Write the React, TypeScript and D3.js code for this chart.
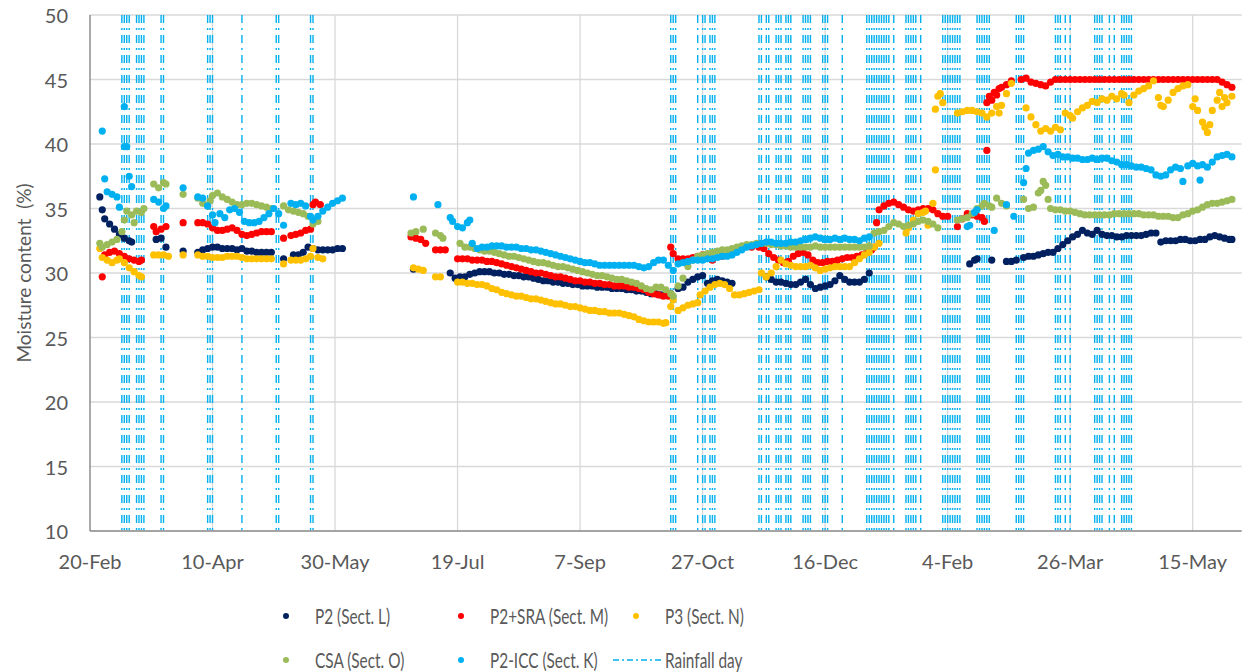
import React from "react";
import * as d3 from "d3";

// day offsets counted from 20-Feb-2020, values = moisture content (%)
const p2: [number, number][] = [
  [4,35.9],[5,34.9],[6,34.2],[8,33.8],[10,33.4],[12,33.0],[14,32.7],[16,32.5],[17,32.4],
  [27,32.6],[29,32.7],[31,32.0],[38,31.7],
  [44,31.6],[46,31.8],[48,31.9],[50,32.0],[52,32.0],[54,31.9],[56,31.9],[58,31.9],[60,31.8],[62,31.9],[64,31.7],[66,31.7],[68,31.6],[70,31.6],[72,31.6],[74,31.6],
  [79,31.1],
  [83,31.4],[85,31.4],[87,31.6],[89,32.0],[91,31.9],[93,31.8],[95,31.8],[97,31.8],[99,31.8],[101,31.9],[103,31.9],
  [132,30.3],[147,30.0],[149,29.6],[151,29.7],[153,29.7],[155,29.9],[157,30.0],[159,30.1],[161,30.1],[163,30.1],[165,30.0],[167,30.0],[169,29.9],[171,29.9],[173,29.8],[175,29.8],[177,29.7],[179,29.7],[181,29.6],[183,29.5],[185,29.4],[187,29.4],[189,29.3],[191,29.3],[193,29.2],[195,29.2],[197,29.1],[199,29.1],[201,29.0],[203,29.0],[205,29.0],[207,28.9],[209,28.9],[211,28.9],[213,28.8],[215,28.8],[217,28.8],[219,28.7],[221,28.7],[223,28.6],[225,28.6],[227,28.5],[229,28.4],[231,28.4],[233,28.3],[235,28.3],[237,28.4],
  [240,28.8],[242,28.9],[244,29.3],[246,29.5],[248,29.7],[250,29.8],[252,29.2],[254,29.4],[256,29.5],[258,29.4],[260,29.3],[262,29.2],
  [276,29.7],[278,29.5],[280,29.3],[282,29.3],[284,29.2],[286,29.1],[288,29.1],[290,29.3],[292,29.5],[294,29.1],[296,28.8],[298,28.9],[300,29.0],[302,29.1],[304,29.4],[306,29.8],[308,29.5],[310,29.3],[312,29.3],[314,29.3],[316,29.5],[318,30.0],
  [359,30.7],[361,31.0],[362,31.1],[368,31.0],[374,30.9],[376,30.9],[378,31.0],[381,31.2],[383,31.3],[385,31.3],[387,31.4],[389,31.5],[391,31.6],[393,31.6],[395,31.9],[397,32.2],[399,32.5],[401,32.8],[403,33.0],[405,33.3],[407,33.1],[409,33.0],[411,33.3],[413,33.0],[415,32.9],[417,32.9],[419,32.8],[421,32.8],[423,32.9],[425,32.9],[427,32.9],[429,32.9],[431,33.0],[433,33.1],[435,33.1],
  [437,32.4],[439,32.5],[441,32.5],[443,32.5],[445,32.6],[447,32.6],[449,32.5],[451,32.5],[453,32.6],[455,32.6],[457,32.8],[459,32.9],[461,32.8],[463,32.7],[465,32.6],[466,32.6],
];

const p2sra: [number, number][] = [
  [5,29.7],[6,31.4],[8,31.6],[10,31.7],[12,31.5],[14,31.3],[16,31.1],[18,31.0],[20,30.9],[21,31.0],
  [26,33.6],[27,33.2],[29,33.4],[31,33.6],[38,33.9],
  [44,33.9],[46,33.9],[48,33.8],[50,33.5],[52,33.3],[54,33.3],[56,33.4],[58,33.5],[60,33.3],[62,33.0],[64,32.9],[66,33.0],[68,33.1],[70,33.2],[72,33.2],[74,33.2],
  [79,32.7],
  [82,32.9],[84,33.0],[86,33.1],[88,33.3],[90,33.4],[91,35.3],[92,35.5],[94,35.3],
  [131,32.8],[133,32.7],[135,32.6],[137,32.3],[141,31.8],[143,31.8],[145,31.8],
  [150,31.1],[152,31.1],[154,31.1],[156,31.0],[158,31.0],[160,31.0],[162,30.9],[164,30.9],[166,30.8],[168,30.7],[170,30.6],[172,30.5],[174,30.4],[176,30.3],[178,30.2],[180,30.1],[182,30.0],[184,30.0],[186,29.9],[188,29.8],[190,29.7],[192,29.7],[194,29.6],[196,29.5],[198,29.4],[200,29.4],[202,29.3],[204,29.3],[206,29.2],[208,29.2],[210,29.1],[212,29.1],[214,29.0],[216,29.0],[218,29.0],[220,28.9],[222,28.9],[224,28.8],[226,28.7],[228,28.5],[230,28.4],[232,28.3],[234,28.2],[236,28.2],
  [237,32.0],[238,31.5],[240,31.1],[242,31.1],[244,31.1],[246,31.2],[248,31.3],[250,31.4],[252,31.2],[254,31.0],
  [258,31.3],[262,31.6],[266,31.9],[270,32.0],[273,32.0],[275,31.9],[277,31.5],[279,31.2],[281,31.0],[283,30.8],[285,30.9],[287,31.3],[289,31.5],[291,31.6],[293,31.4],[295,31.0],[297,30.8],[299,30.8],[301,30.9],[303,30.9],[305,31.0],[307,31.1],[309,31.2],[311,31.2],[313,31.3],[315,31.4],[317,31.6],[319,31.8],[320,32.0],
  [321,33.9],[322,34.9],[324,35.2],[326,35.4],[328,35.5],[330,35.3],[332,35.1],[334,34.9],[336,34.8],[338,34.9],[340,35.0],[342,35.0],[344,34.9],[346,34.6],[348,34.4],[350,34.4],
  [354,33.6],[356,34.2],[358,34.6],[360,34.5],[362,34.4],[364,34.3],[365,34.0],
  [366,39.5],
  [366,43.2],[367,43.7],[368,43.4],[369,44.0],[370,43.8],[371,44.3],[372,44.4],[374,44.6],[376,44.9],
  [380,45.0],[382,45.1],[384,44.8],[386,44.7],[388,44.6],[390,44.5],[392,44.8],[394,45.0],[396,45.0],[398,45.0],[400,45.0],[402,45.0],[404,45.0],[406,45.0],[408,45.0],[410,45.0],[412,45.0],[414,45.0],[416,45.0],[418,45.0],[420,45.0],[422,45.0],[424,45.0],[426,45.0],[428,45.0],[430,45.0],[432,45.0],[434,45.0],[436,45.0],[438,45.0],[440,45.0],[442,45.0],[444,45.0],[446,45.0],[448,45.0],[450,45.0],[452,45.0],[454,45.0],[456,45.0],[458,45.0],[460,45.0],[462,44.8],[464,44.6],[466,44.4],
];

const p3: [number, number][] = [
  [4,31.9],[5,31.2],[7,31.0],[9,30.8],[11,31.0],[12,31.1],[14,30.8],[16,30.4],[18,30.1],[20,29.8],[21,29.7],
  [26,31.4],[28,31.4],[30,31.4],[32,31.3],[38,31.4],
  [44,31.4],[46,31.3],[48,31.3],[50,31.2],[52,31.2],[54,31.2],[56,31.3],[58,31.3],[60,31.3],[62,31.2],[64,31.1],[66,31.1],[68,31.1],[70,31.1],[72,31.1],[74,31.1],
  [79,30.7],
  [82,31.0],[84,31.0],[86,31.0],[88,31.1],[90,31.3],[91,31.9],[93,31.2],[95,31.1],
  [132,30.4],[134,30.3],[136,30.2],[141,29.7],[143,29.7],
  [150,29.3],[152,29.3],[154,29.2],[156,29.2],[158,29.1],[160,29.1],[162,29.0],[164,28.8],[166,28.7],[168,28.5],[170,28.4],[172,28.3],[174,28.2],[176,28.2],[178,28.1],[180,28.0],[182,28.0],[184,27.9],[186,27.8],[188,27.7],[190,27.6],[192,27.6],[194,27.5],[196,27.4],[198,27.4],[200,27.3],[202,27.2],[204,27.1],[206,27.1],[208,27.0],[210,27.0],[212,26.9],[214,26.9],[216,26.9],[218,26.8],[220,26.7],[222,26.6],[224,26.4],[226,26.3],[228,26.2],[230,26.2],[232,26.2],[234,26.1],[235,26.15],
  [237,27.4],[238,27.9],[240,27.1],[242,27.3],[244,27.5],[246,27.6],[248,27.7],[249,28.3],[251,28.6],[253,28.9],[255,29.1],[257,29.2],[259,29.1],[261,28.8],[263,28.3],[265,28.3],[267,28.4],[269,28.5],[271,28.6],[273,28.7],
  [274,30.0],[276,29.7],[278,30.0],[280,30.5],[282,31.0],[284,30.7],[286,30.6],[288,30.5],[290,30.5],[292,30.5],[294,30.6],[296,30.4],[298,30.2],[300,30.3],[302,30.4],[304,30.5],[306,30.5],[308,30.5],[310,30.5],[312,30.8],[314,31.1],[316,31.4],[318,31.6],[320,32.0],[322,32.3],
  [333,33.1],[334,33.5],[336,34.1],[338,34.6],[340,34.7],[341,34.8],[342,33.7],[344,35.4],[345,38.0],
  [345,42.7],[346,43.7],[347,43.9],[348,43.2],[354,42.4],[356,42.5],[358,42.6],[360,42.6],[362,42.5],[364,42.4],[366,42.1],[368,42.4],[370,42.9],[371,42.4],[372,43.0],[374,43.9],[376,44.7],
  [382,42.8],[384,42.1],[386,41.5],[388,41.0],[390,41.2],[392,41.0],[394,41.3],[396,41.1],[398,42.4],[400,42.2],[401,42.0],[403,42.5],[405,42.8],[407,43.0],[409,43.3],[411,43.2],[413,43.5],[415,43.4],[417,43.7],[419,43.5],[421,43.9],
  [422,43.8],[424,43.2],[426,43.8],[428,44.1],[430,44.3],[432,44.5],[434,44.9],[436,43.6],[437,43.0],[438,42.9],[440,43.4],[442,44.0],[444,44.3],[446,44.5],[448,44.6],
  [450,42.9],[451,43.5],[452,42.6],[454,41.7],[455,41.3],[456,40.9],[457,41.5],[458,42.6],[460,43.4],[461,44.0],[462,42.9],[463,43.6],[464,43.2],[466,43.7],
];

const csa: [number, number][] = [
  [4,32.3],[5,32.0],[7,32.2],[9,32.4],[11,32.6],[13,33.2],[14,34.1],[15,34.8],[17,34.5],[18,33.9],[19,34.8],[21,34.7],[22,35.0],
  [26,36.9],[28,36.6],[30,37.0],[31,36.9],[38,36.1],
  [44,35.8],[46,35.4],[48,35.2],[49,35.6],[50,36.0],[52,36.2],[54,35.9],[56,35.7],[58,35.5],[60,35.3],[62,35.3],[64,35.4],[66,35.4],[68,35.3],[70,35.2],[72,35.1],[74,35.0],
  [79,35.2],
  [81,34.9],[83,34.8],[85,34.7],[87,34.6],[89,34.4],[91,33.8],[93,34.0],
  [131,33.1],[133,33.2],[136,33.4],[141,33.1],[143,32.9],[144,32.7],
  [151,32.3],[153,32.0],[155,32.0],[157,31.9],[159,31.8],[161,31.7],[163,31.7],[165,31.6],[167,31.5],[169,31.4],[171,31.3],[173,31.3],[175,31.2],[177,31.1],[179,31.0],[181,30.9],[183,30.8],[185,30.8],[187,30.7],[189,30.6],[191,30.5],[193,30.5],[195,30.4],[197,30.3],[199,30.2],[201,30.1],[203,30.0],[205,29.9],[207,29.8],[209,29.8],[211,29.7],[213,29.6],[215,29.5],[217,29.5],[219,29.4],[221,29.3],[223,29.2],[225,29.0],[227,28.8],[229,28.7],[231,28.9],[233,28.9],[235,28.7],[237,28.4],[238,28.2],
  [240,29.0],[242,29.6],[244,30.5],[246,31.0],[248,31.3],[250,31.4],[252,31.5],[254,31.6],[256,31.7],[258,31.8],[260,31.8],[262,31.9],[264,32.0],[266,32.1],[268,32.2],[270,32.2],[272,32.3],[274,32.3],[276,32.3],[278,32.2],[280,32.2],[282,32.1],[284,32.1],[286,32.0],[288,32.0],[290,32.0],[292,32.0],[294,32.0],[296,32.1],[298,32.0],[300,32.0],[302,32.0],[304,32.0],[306,32.0],[308,32.0],[310,32.0],[312,32.0],[314,32.0],[316,32.0],[318,32.1],
  [320,33.1],[322,33.2],[324,33.3],[326,33.6],[328,33.9],[330,33.8],[332,33.6],[334,33.7],[336,33.8],[338,34.0],[340,34.1],[342,34.0],[344,33.8],[346,33.5],
  [354,34.1],[356,34.2],[358,34.3],[360,34.6],[362,35.0],[364,35.2],[365,35.4],[367,35.2],[368,35.1],[370,35.8],[372,35.4],[374,35.2],
  [381,35.7],[383,35.0],[385,35.1],[387,36.2],[388,36.4],[389,37.1],[390,36.8],[391,35.7],[392,35.0],[394,34.9],[396,34.9],[398,34.8],[400,34.8],[402,34.7],[404,34.6],[406,34.5],[408,34.5],[410,34.5],[412,34.5],[414,34.5],[416,34.5],[418,34.6],[420,34.6],[422,34.6],[424,34.6],[426,34.6],[428,34.6],[430,34.5],[432,34.5],[434,34.5],[436,34.4],[438,34.4],[440,34.4],[442,34.3],[444,34.3],[446,34.5],[448,34.6],[450,34.8],[452,34.9],[454,35.1],[456,35.3],[458,35.4],[460,35.4],[462,35.5],[464,35.6],[466,35.7],
];

const icc: [number, number][] = [
  [5,41.0],[6,37.3],[7,36.3],[9,36.1],[11,35.9],[12,35.1],[14,42.9],[14,39.8],[15,39.8],[16,37.5],[17,36.7],
  [26,35.7],[28,35.5],[30,35.0],[31,35.2],[38,36.6],
  [44,35.9],[46,35.8],[48,35.2],[50,34.5],[51,33.9],[53,34.6],[55,34.3],[57,34.9],[59,35.0],[61,34.7],[63,34.0],[65,33.9],[67,33.9],[69,34.0],[71,34.3],[73,34.6],[75,35.0],[77,34.6],
  [79,33.7],
  [82,35.4],[84,35.3],[86,35.4],[88,35.2],[90,34.4],[91,34.1],[93,34.4],[95,34.8],[97,35.1],[99,35.4],[101,35.6],[103,35.8],
  [132,35.9],[142,35.3],[147,34.3],[148,34.0],[150,33.6],[152,33.5],[154,33.9],[155,34.1],[156,32.3],
  [158,31.9],[160,32.0],[162,32.0],[164,32.1],[166,32.1],[168,32.1],[170,32.0],[172,32.0],[174,32.0],[176,31.9],[178,31.9],[180,31.8],[182,31.8],[184,31.7],[186,31.6],[188,31.5],[190,31.4],[192,31.3],[194,31.2],[196,31.1],[198,31.0],[200,30.9],[202,30.8],[204,30.8],[206,30.7],[208,30.6],[210,30.6],[212,30.6],[214,30.6],[216,30.6],[218,30.6],[220,30.6],[222,30.6],[224,30.5],[226,30.4],[228,30.5],[230,30.8],[232,31.0],[234,31.0],[236,30.6],[238,30.2],
  [240,30.7],[242,30.8],[244,30.9],[246,31.0],[248,31.0],[250,31.0],[252,31.1],[254,31.1],[256,31.2],[258,31.3],[260,31.3],[262,31.4],[264,31.6],[266,31.8],[268,32.0],[270,32.1],[272,32.2],[274,32.3],[276,32.4],[278,32.4],[280,32.3],[282,32.3],[284,32.3],[286,32.4],[288,32.4],[290,32.5],[292,32.6],[294,32.7],[296,32.8],[298,32.7],[300,32.6],[302,32.6],[304,32.7],[306,32.6],[308,32.7],[310,32.6],[312,32.6],[314,32.5],[316,32.7],[318,32.8],
  [358,33.6],[359,33.7],[361,34.7],[362,34.9],[369,33.3],[374,35.3],[377,34.4],[381,37.0],[382,38.1],
  [383,39.3],[385,39.5],[387,39.6],[389,39.8],[391,39.4],[393,39.1],[395,39.2],[397,39.0],[399,39.0],[401,38.9],[403,38.9],[405,38.8],[407,38.8],[409,38.9],[411,38.8],[413,38.9],[415,38.9],[417,38.7],[419,38.6],[421,38.4],[423,38.4],[425,38.3],[427,38.2],[429,38.2],[431,38.1],[433,38.0],[435,37.6],[437,37.5],[439,37.6],[441,38.0],[443,38.2],[445,38.1],[446,37.1],[448,38.3],[450,38.5],[452,38.3],[453,37.2],[454,38.4],[456,38.2],[458,38.6],[460,39.0],[462,39.1],[464,39.2],[466,39.0],
];

const rainDays = [
  13,14,15,16,19,20,21,22,29,30,48,49,50,62,76,77,90,91,
  237,238,239,248,250,251,253,254,255,273,274,276,277,280,281,282,284,285,286,
  291,292,293,294,299,300,301,307,317,318,319,320,321,322,323,324,325,326,328,
  333,334,335,336,337,339,348,349,350,351,352,353,354,355,362,363,364,365,366,367,
  378,379,380,381,394,395,396,398,400,410,411,412,413,416,418,421,422,423,424,425,
];

const xTickDays = [0, 50, 100, 150, 200, 250, 300, 350, 400, 450];
const yTicks = [10, 15, 20, 25, 30, 35, 40, 45, 50];

const series = [
  { name: "P2 (Sect. L)", color: "#002060", data: p2 },
  { name: "P2+SRA (Sect. M)", color: "#FF0000", data: p2sra },
  { name: "P3 (Sect. N)", color: "#FFC000", data: p3 },
  { name: "CSA (Sect. O)", color: "#9BBB59", data: csa },
  { name: "P2-ICC (Sect. K)", color: "#00B0F0", data: icc },
];

const START = Date.UTC(2020, 1, 20);
const dayToDate = (d: number) => d3.utcDay.offset(new Date(START), d);
const fmt = d3.utcFormat("%-d-%b");

const W = 1248, H = 672;
const FONT = "Lato, 'Open Sans', sans-serif";
const RAIN_DASH = "8,5,2,5";

export default function App() {
  const x = d3.scaleUtc().domain([dayToDate(0), dayToDate(470)]).range([90, 1241.7]);
  const y = d3.scaleLinear().domain([10, 50]).range([531, 15]);

  const legend = [
    ...series.map((s) => ({ name: s.name, color: s.color, rain: false })),
    { name: "Rainfall day", color: "#00B0F0", rain: true },
  ];
  const colX = [286, 461, 636];
  const rowY = [616, 660];

  return (
    <svg width={W} height={H} style={{ position: "absolute", left: 0, top: 0, background: "#fff" }} fontFamily={FONT}>
      {/* gridlines */}
      {yTicks.filter((t) => t > 10).map((t) => (
        <line key={"gy" + t} x1={90} x2={1241.7} y1={y(t)} y2={y(t)} stroke="#D9D9D9" strokeWidth={1.3} />
      ))}
      {xTickDays.filter((d) => d > 0).map((d) => (
        <line key={"gx" + d} x1={x(dayToDate(d))} x2={x(dayToDate(d))} y1={15} y2={531} stroke="#D9D9D9" strokeWidth={1.3} />
      ))}
      {/* rainfall days */}
      {rainDays.map((d, i) => (
        <line key={"r" + i} x1={x(dayToDate(d))} x2={x(dayToDate(d))} y1={15} y2={531}
          stroke="#00B0F0" strokeWidth={1.4} strokeDasharray={RAIN_DASH} />
      ))}
      {/* axes */}
      <line x1={90} x2={1241.7} y1={531} y2={531} stroke="#868686" strokeWidth={1.4} />
      <line x1={90} x2={90} y1={15} y2={531} stroke="#868686" strokeWidth={1.4} />
      {yTicks.map((t) => (
        <text key={"ty" + t} x={68} y={y(t)} textAnchor="end" dominantBaseline="central" fontSize={20} fill="#595959">{t}</text>
      ))}
      {xTickDays.map((d) => (
        <text key={"tx" + d} x={x(dayToDate(d))} y={561} textAnchor="middle" dominantBaseline="central" fontSize={20} fill="#595959">
          {fmt(dayToDate(d))}
        </text>
      ))}
      <text transform={`translate(23,273) rotate(-90)`} textAnchor="middle" dominantBaseline="central" fontSize={19}
        fill="#595959" style={{ whiteSpace: "pre" }}>
        {"Moisture content  (%)"}
      </text>
      {/* series */}
      {series.map((s) => (
        <g key={s.name} fill={s.color}>
          {s.data.map(([d, v], i) => (
            <circle key={i} cx={x(dayToDate(d))} cy={y(v)} r={3.6} />
          ))}
        </g>
      ))}
      {/* legend */}
      {legend.map((l, i) => {
        const cx = colX[i % 3];
        const cy = rowY[Math.floor(i / 3)];
        return (
          <g key={"l" + i}>
            {l.rain ? (
              <line x1={cx - 23} x2={cx + 27} y1={cy} y2={cy} stroke={l.color} strokeWidth={1.4} strokeDasharray="6,3,2,3" />
            ) : (
              <circle cx={cx} cy={cy} r={3} fill={l.color} />
            )}
            <text transform={`translate(${cx + 29},${cy}) scale(0.75,1)`} dominantBaseline="central" fontSize={20.5} fill="#595959">
              {l.name}
            </text>
          </g>
        );
      })}
    </svg>
  );
}
